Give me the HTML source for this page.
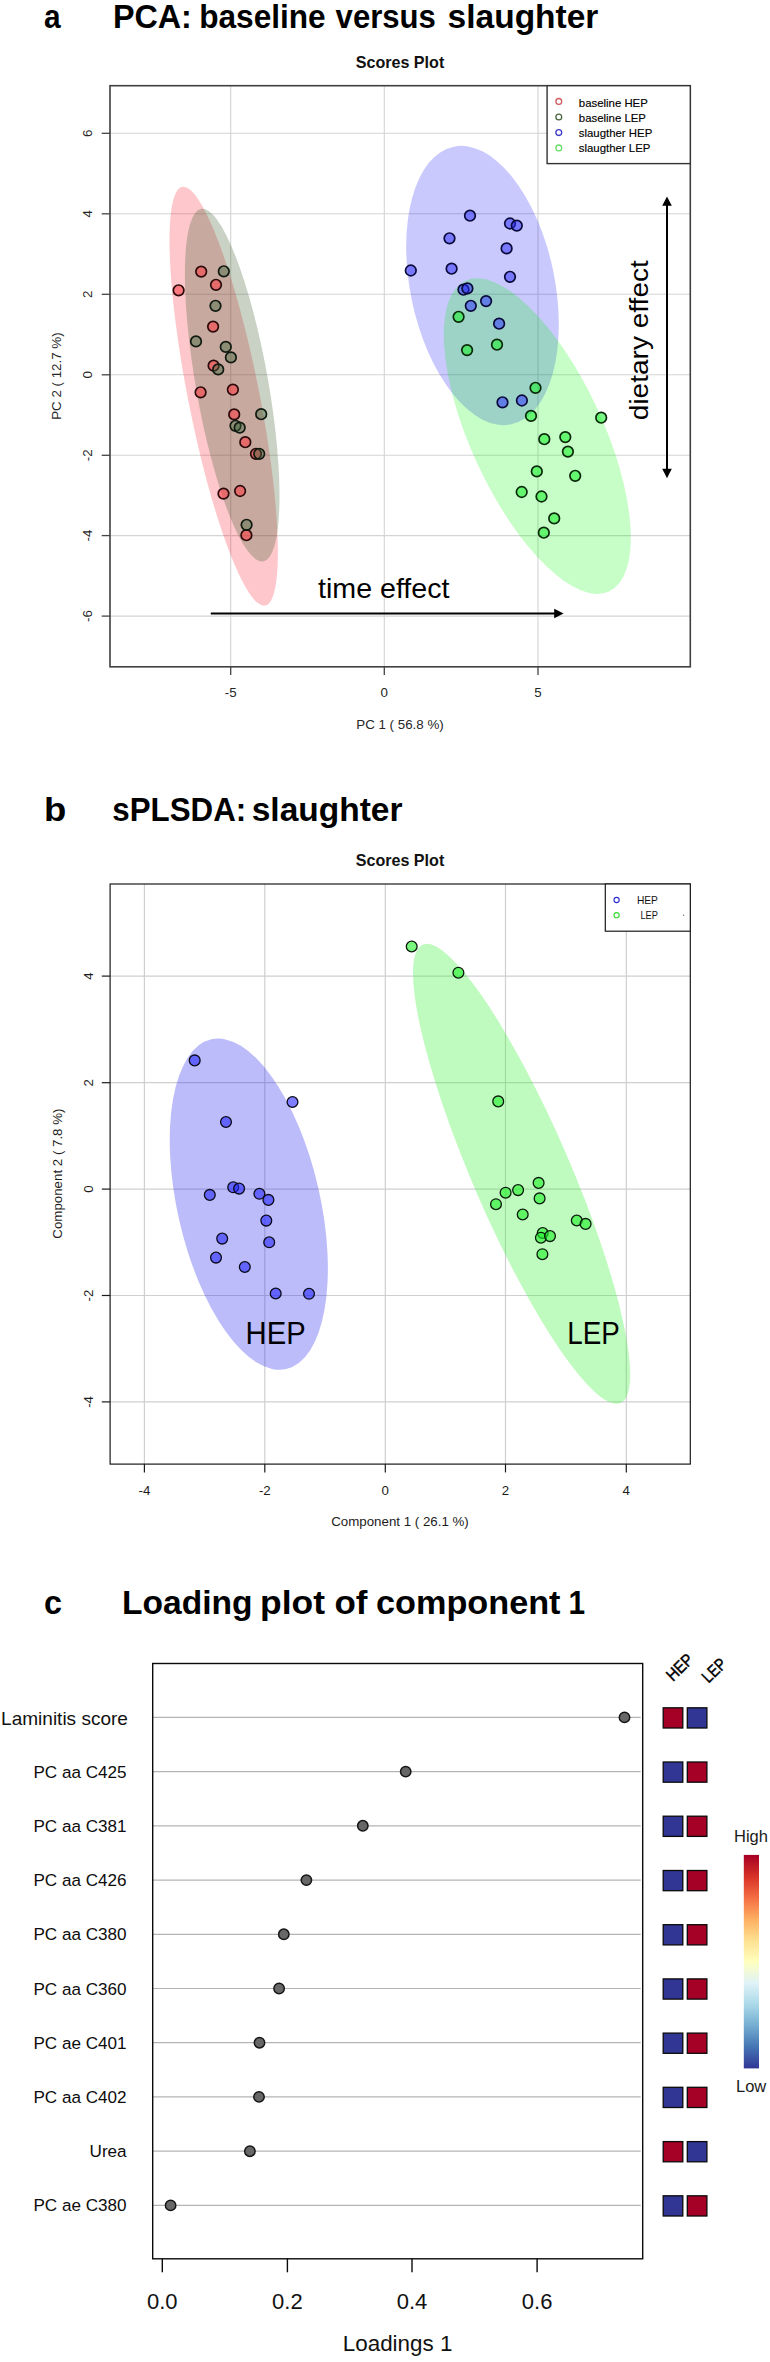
<!DOCTYPE html>
<html lang="en"><head><meta charset="utf-8"><title>Figure</title>
<style>
html,body{margin:0;padding:0;background:#fff;}
body{width:770px;height:2362px;overflow:hidden;}
svg{display:block;font-family:"Liberation Sans",Arial,sans-serif;}
.ttl{font-weight:bold;font-size:32.3px;fill:#000;}
.sp{font-weight:bold;font-size:16.1px;fill:#111;}
.ax{font-size:13.3px;fill:#1c1c1c;}
.axa{font-size:13.35px;fill:#262626;}
.lg{font-size:11.4px;fill:#000;stroke:#000;stroke-width:0.15px;}
.cl{font-size:17.1px;fill:#0d0d0d;}
.ct{font-size:22px;fill:#111;}
</style></head><body>
<svg width="770" height="2362" viewBox="0 0 770 2362">
<rect width="770" height="2362" fill="#fff"/>

<g id="panel-a">
<text class="ttl" x="44.1" y="28" textLength="16.6" lengthAdjust="spacingAndGlyphs">a</text>
<text class="ttl" x="112.9" y="28">PCA:</text>
<text class="ttl" x="199.2" y="28" textLength="126.5" lengthAdjust="spacingAndGlyphs">baseline</text>
<text class="ttl" x="335.6" y="28" textLength="100.3" lengthAdjust="spacingAndGlyphs">versus</text>
<text class="ttl" x="447.6" y="28" textLength="150.8" lengthAdjust="spacingAndGlyphs">slaughter</text>
<g>
<text class="sp" x="400" y="67.6" text-anchor="middle">Scores Plot</text>
<g stroke="#d4d4d4" stroke-width="1.1">
<line x1="230.7" y1="85.7" x2="230.7" y2="666.8"/>
<line x1="384.3" y1="85.7" x2="384.3" y2="666.8"/>
<line x1="538.0" y1="85.7" x2="538.0" y2="666.8"/>
<line x1="110" y1="133.3" x2="690.3" y2="133.3"/>
<line x1="110" y1="213.8" x2="690.3" y2="213.8"/>
<line x1="110" y1="294.3" x2="690.3" y2="294.3"/>
<line x1="110" y1="374.8" x2="690.3" y2="374.8"/>
<line x1="110" y1="455.3" x2="690.3" y2="455.3"/>
<line x1="110" y1="535.6" x2="690.3" y2="535.6"/>
<line x1="110" y1="616.1" x2="690.3" y2="616.1"/>
</g>
<ellipse cx="223.7" cy="396.2" rx="35.6" ry="213.4" transform="rotate(-11.20 223.7 396.2)" fill="rgba(250,0,20,0.22)"/>
<ellipse cx="232.2" cy="385.1" rx="36.2" ry="179.0" transform="rotate(-10.00 232.2 385.1)" fill="rgba(55,90,40,0.27)"/>
<ellipse cx="482.5" cy="285.5" rx="72.2" ry="141.8" transform="rotate(-11.70 482.5 285.5)" fill="rgba(0,0,250,0.21)"/>
<ellipse cx="537.3" cy="436.1" rx="66.0" ry="171.2" transform="rotate(-24.80 537.3 436.1)" fill="rgba(0,245,0,0.22)"/>
<g fill="rgba(255,50,60,0.52)" stroke="#2a0a0a" stroke-width="1.7">
<circle cx="201.2" cy="271.6" r="5.3"/>
<circle cx="216.0" cy="284.8" r="5.3"/>
<circle cx="178.6" cy="290.3" r="5.3"/>
<circle cx="213.1" cy="326.6" r="5.3"/>
<circle cx="213.6" cy="365.7" r="5.3"/>
<circle cx="200.6" cy="392.3" r="5.3"/>
<circle cx="232.9" cy="389.7" r="5.3"/>
<circle cx="234.2" cy="414.4" r="5.3"/>
<circle cx="245.3" cy="442.2" r="5.3"/>
<circle cx="256.0" cy="453.8" r="5.3"/>
<circle cx="223.5" cy="493.6" r="5.3"/>
<circle cx="240.1" cy="491.0" r="5.3"/>
<circle cx="246.4" cy="535.2" r="5.3"/>
</g>
<g fill="rgba(60,100,60,0.42)" stroke="#101a10" stroke-width="1.7">
<circle cx="223.8" cy="271.3" r="5.3"/>
<circle cx="215.5" cy="305.8" r="5.3"/>
<circle cx="196.0" cy="341.4" r="5.3"/>
<circle cx="225.8" cy="346.9" r="5.3"/>
<circle cx="230.9" cy="357.4" r="5.3"/>
<circle cx="218.2" cy="369.4" r="5.3"/>
<circle cx="261.2" cy="414.2" r="5.3"/>
<circle cx="235.5" cy="425.8" r="5.3"/>
<circle cx="239.7" cy="427.6" r="5.3"/>
<circle cx="259.2" cy="453.8" r="5.3"/>
<circle cx="246.6" cy="524.8" r="5.3"/>
</g>
<g fill="rgba(40,40,255,0.5)" stroke="#0a0a3a" stroke-width="1.7">
<circle cx="470.0" cy="215.7" r="5.3"/>
<circle cx="510.0" cy="223.5" r="5.3"/>
<circle cx="516.8" cy="225.6" r="5.3"/>
<circle cx="449.5" cy="238.3" r="5.3"/>
<circle cx="506.6" cy="248.4" r="5.3"/>
<circle cx="410.8" cy="270.5" r="5.3"/>
<circle cx="451.6" cy="268.7" r="5.3"/>
<circle cx="510.0" cy="276.8" r="5.3"/>
<circle cx="463.5" cy="289.7" r="5.3"/>
<circle cx="467.4" cy="288.4" r="5.3"/>
<circle cx="486.1" cy="301.1" r="5.3"/>
<circle cx="470.8" cy="305.8" r="5.3"/>
<circle cx="499.1" cy="323.7" r="5.3"/>
<circle cx="502.5" cy="402.3" r="5.3"/>
<circle cx="521.9" cy="400.5" r="5.3"/>
</g>
<g fill="rgba(20,240,40,0.55)" stroke="#0a2a0a" stroke-width="1.7">
<circle cx="458.6" cy="316.8" r="5.3"/>
<circle cx="467.1" cy="350.1" r="5.3"/>
<circle cx="497.0" cy="344.7" r="5.3"/>
<circle cx="535.5" cy="387.8" r="5.3"/>
<circle cx="531.0" cy="415.9" r="5.3"/>
<circle cx="601.2" cy="417.7" r="5.3"/>
<circle cx="544.3" cy="439.2" r="5.3"/>
<circle cx="565.3" cy="437.1" r="5.3"/>
<circle cx="567.9" cy="451.6" r="5.3"/>
<circle cx="536.8" cy="471.4" r="5.3"/>
<circle cx="575.2" cy="475.8" r="5.3"/>
<circle cx="521.7" cy="492.0" r="5.3"/>
<circle cx="541.5" cy="496.5" r="5.3"/>
<circle cx="554.2" cy="518.4" r="5.3"/>
<circle cx="543.8" cy="532.7" r="5.3"/>
</g>
<rect x="110" y="85.7" width="580.3" height="581.0999999999999" fill="none" stroke="#404040" stroke-width="1.6"/>
<g stroke="#444" stroke-width="1.3">
<line x1="230.7" y1="666.8" x2="230.7" y2="675.0999999999999"/>
<line x1="384.3" y1="666.8" x2="384.3" y2="675.0999999999999"/>
<line x1="538.0" y1="666.8" x2="538.0" y2="675.0999999999999"/>
<line x1="110" y1="133.3" x2="101.7" y2="133.3"/>
<line x1="110" y1="213.8" x2="101.7" y2="213.8"/>
<line x1="110" y1="294.3" x2="101.7" y2="294.3"/>
<line x1="110" y1="374.8" x2="101.7" y2="374.8"/>
<line x1="110" y1="455.3" x2="101.7" y2="455.3"/>
<line x1="110" y1="535.6" x2="101.7" y2="535.6"/>
<line x1="110" y1="616.1" x2="101.7" y2="616.1"/>
</g>
<text class="axa" x="230.7" y="697.4" text-anchor="middle">-5</text>
<text class="axa" x="384.3" y="697.4" text-anchor="middle">0</text>
<text class="axa" x="538.0" y="697.4" text-anchor="middle">5</text>
<text class="axa" transform="translate(92.4 133.3) rotate(-90)" text-anchor="middle">6</text>
<text class="axa" transform="translate(92.4 213.8) rotate(-90)" text-anchor="middle">4</text>
<text class="axa" transform="translate(92.4 294.3) rotate(-90)" text-anchor="middle">2</text>
<text class="axa" transform="translate(92.4 374.8) rotate(-90)" text-anchor="middle">0</text>
<text class="axa" transform="translate(92.4 455.3) rotate(-90)" text-anchor="middle">-2</text>
<text class="axa" transform="translate(92.4 535.6) rotate(-90)" text-anchor="middle">-4</text>
<text class="axa" transform="translate(92.4 616.1) rotate(-90)" text-anchor="middle">-6</text>
<text class="axa" x="400" y="728.8" text-anchor="middle">PC 1 ( 56.8 %)</text>
<text class="axa" transform="translate(61.3 376.1) rotate(-90)" text-anchor="middle">PC 2 ( 12.7 %)</text>
<rect x="547.1" y="85.7" width="143.2" height="77.9" fill="#fff" stroke="#333" stroke-width="1.4"/>
<circle cx="558.8" cy="101.4" r="2.9" fill="none" stroke="#d05a5f" stroke-width="1.3"/>
<text class="lg" x="578.8" y="106.6">baseline HEP</text>
<circle cx="558.8" cy="117.0" r="2.9" fill="none" stroke="#4c6640" stroke-width="1.3"/>
<text class="lg" x="578.8" y="122.2">baseline LEP</text>
<circle cx="558.8" cy="132.6" r="2.9" fill="none" stroke="#3a3ac8" stroke-width="1.3"/>
<text class="lg" x="578.8" y="137.2">slaugther HEP</text>
<circle cx="558.8" cy="147.9" r="2.9" fill="none" stroke="#66dd66" stroke-width="1.3"/>
<text class="lg" x="578.8" y="152.0">slaugther LEP</text>
</g>
<g stroke="#000" stroke-width="2" fill="#000">
<line x1="210.8" y1="613.5" x2="556" y2="613.5"/>
<path d="M563.6 613.5 L554.2 608.7 L554.2 618.3 Z" stroke="none"/>
<line x1="667" y1="204" x2="667" y2="470"/>
<path d="M667 196.4 L662.2 205.8 L671.8 205.8 Z" stroke="none"/>
<path d="M667 478.2 L662.2 468.8 L671.8 468.8 Z" stroke="none"/>
</g>
<text x="318" y="598.2" font-size="27.6" fill="#000" textLength="131.5" lengthAdjust="spacingAndGlyphs">time effect</text>
<text transform="translate(647.9 420.2) rotate(-90)" font-size="25.5" fill="#000" textLength="160" lengthAdjust="spacingAndGlyphs">dietary effect</text>
</g>
<g id="panel-b">
<text class="ttl" x="44.0" y="821" textLength="22.3" lengthAdjust="spacingAndGlyphs">b</text>
<text class="ttl" x="112.3" y="821" textLength="133.9" lengthAdjust="spacingAndGlyphs">sPLSDA:</text>
<text class="ttl" x="251.7" y="821" textLength="150.8" lengthAdjust="spacingAndGlyphs">slaughter</text>
<text class="sp" x="400" y="866.2" text-anchor="middle">Scores Plot</text>
<g stroke="#cfcfcf" stroke-width="1.2">
<line x1="144.4" y1="884.0" x2="144.4" y2="1464.1"/>
<line x1="264.8" y1="884.0" x2="264.8" y2="1464.1"/>
<line x1="385.3" y1="884.0" x2="385.3" y2="1464.1"/>
<line x1="505.5" y1="884.0" x2="505.5" y2="1464.1"/>
<line x1="626.3" y1="884.0" x2="626.3" y2="1464.1"/>
<line x1="110.1" y1="976.1" x2="690.3" y2="976.1"/>
<line x1="110.1" y1="1082.7" x2="690.3" y2="1082.7"/>
<line x1="110.1" y1="1189.1" x2="690.3" y2="1189.1"/>
<line x1="110.1" y1="1295.5" x2="690.3" y2="1295.5"/>
<line x1="110.1" y1="1401.9" x2="690.3" y2="1401.9"/>
</g>
<ellipse cx="248.8" cy="1204.2" rx="71.4" ry="169.1" transform="rotate(-12.80 248.8 1204.2)" fill="rgba(40,40,240,0.31)"/>
<ellipse cx="521.6" cy="1173.8" rx="48.8" ry="249.6" transform="rotate(-23.35 521.6 1173.8)" fill="rgba(60,240,60,0.33)" />
<g fill="rgba(40,40,255,0.6)" stroke="#0a0a1a" stroke-width="1.3">
<circle cx="194.7" cy="1060.4" r="5.4"/>
<circle cx="292.5" cy="1102.0" r="5.4"/>
<circle cx="226.0" cy="1122.0" r="5.4"/>
<circle cx="233.2" cy="1187.3" r="5.4"/>
<circle cx="239.1" cy="1188.6" r="5.4"/>
<circle cx="209.8" cy="1194.9" r="5.4"/>
<circle cx="259.4" cy="1193.8" r="5.4"/>
<circle cx="268.4" cy="1199.9" r="5.4"/>
<circle cx="266.3" cy="1220.6" r="5.4"/>
<circle cx="222.2" cy="1238.6" r="5.4"/>
<circle cx="269.2" cy="1242.3" r="5.4"/>
<circle cx="216.0" cy="1257.6" r="5.4"/>
<circle cx="244.8" cy="1267.0" r="5.4"/>
<circle cx="275.7" cy="1293.5" r="5.4"/>
<circle cx="309.0" cy="1293.8" r="5.4"/>
</g>
<g fill="rgba(30,240,40,0.6)" stroke="#0a1a0a" stroke-width="1.3">
<circle cx="411.7" cy="946.5" r="5.4"/>
<circle cx="458.4" cy="972.7" r="5.4"/>
<circle cx="498.2" cy="1101.4" r="5.4"/>
<circle cx="538.6" cy="1182.9" r="5.4"/>
<circle cx="518.1" cy="1190.1" r="5.4"/>
<circle cx="505.6" cy="1192.7" r="5.4"/>
<circle cx="539.6" cy="1198.4" r="5.4"/>
<circle cx="496.0" cy="1204.2" r="5.4"/>
<circle cx="522.7" cy="1214.5" r="5.4"/>
<circle cx="576.8" cy="1220.5" r="5.4"/>
<circle cx="585.6" cy="1223.9" r="5.4"/>
<circle cx="542.7" cy="1233.0" r="5.4"/>
<circle cx="540.9" cy="1237.7" r="5.4"/>
<circle cx="550.0" cy="1236.1" r="5.4"/>
<circle cx="542.4" cy="1254.2" r="5.4"/>
</g>
<rect x="110.1" y="884.0" width="580.1999999999999" height="580.0999999999999" fill="none" stroke="#1a1a1a" stroke-width="1.2"/>
<g stroke="#1a1a1a" stroke-width="1.2">
<line x1="144.4" y1="1464.1" x2="144.4" y2="1472.3999999999999"/>
<line x1="264.8" y1="1464.1" x2="264.8" y2="1472.3999999999999"/>
<line x1="385.3" y1="1464.1" x2="385.3" y2="1472.3999999999999"/>
<line x1="505.5" y1="1464.1" x2="505.5" y2="1472.3999999999999"/>
<line x1="626.3" y1="1464.1" x2="626.3" y2="1472.3999999999999"/>
<line x1="110.1" y1="976.1" x2="101.8" y2="976.1"/>
<line x1="110.1" y1="1082.7" x2="101.8" y2="1082.7"/>
<line x1="110.1" y1="1189.1" x2="101.8" y2="1189.1"/>
<line x1="110.1" y1="1295.5" x2="101.8" y2="1295.5"/>
<line x1="110.1" y1="1401.9" x2="101.8" y2="1401.9"/>
</g>
<text class="ax" x="144.4" y="1494.6" text-anchor="middle">-4</text>
<text class="ax" x="264.8" y="1494.6" text-anchor="middle">-2</text>
<text class="ax" x="385.3" y="1494.6" text-anchor="middle">0</text>
<text class="ax" x="505.5" y="1494.6" text-anchor="middle">2</text>
<text class="ax" x="626.3" y="1494.6" text-anchor="middle">4</text>
<text class="ax" transform="translate(92.9 976.1) rotate(-90)" text-anchor="middle">4</text>
<text class="ax" transform="translate(92.9 1082.7) rotate(-90)" text-anchor="middle">2</text>
<text class="ax" transform="translate(92.9 1189.1) rotate(-90)" text-anchor="middle">0</text>
<text class="ax" transform="translate(92.9 1295.5) rotate(-90)" text-anchor="middle">-2</text>
<text class="ax" transform="translate(92.9 1401.9) rotate(-90)" text-anchor="middle">-4</text>
<text class="ax" x="400" y="1526" text-anchor="middle">Component 1 ( 26.1 %)</text>
<text class="ax" transform="translate(61.7 1173.6) rotate(-90)" text-anchor="middle">Component 2 ( 7.8 %)</text>
<rect x="605.3" y="884" width="85" height="47.2" fill="#fff" stroke="#1a1a1a" stroke-width="1.2"/>
<circle cx="616.6" cy="900" r="2.6" fill="none" stroke="#2a2ad0" stroke-width="1.1"/>
<circle cx="616.6" cy="915.2" r="2.6" fill="none" stroke="#33dd33" stroke-width="1.1"/>
<text x="636.9" y="904.3" font-size="10.6" fill="#111" textLength="21" lengthAdjust="spacingAndGlyphs">HEP</text>
<text x="640.4" y="919.1" font-size="10.6" fill="#111" textLength="17.5" lengthAdjust="spacingAndGlyphs">LEP</text>
<circle cx="683.6" cy="915.2" r="0.6" fill="#555"/>
<text x="245.6" y="1344.2" font-size="32" fill="#000" textLength="60" lengthAdjust="spacingAndGlyphs">HEP</text>
<text x="567.2" y="1344.4" font-size="32" fill="#000" textLength="52.5" lengthAdjust="spacingAndGlyphs">LEP</text>
</g>
<g id="panel-c">
<text class="ttl" x="44" y="1613.8" font-size="32.5">c</text>
<text class="ttl" x="122.0" y="1613.8" style="font-size:32.5px" textLength="130.5" lengthAdjust="spacingAndGlyphs">Loading</text>
<text class="ttl" x="260.0" y="1613.8" style="font-size:32.5px" textLength="65.0" lengthAdjust="spacingAndGlyphs">plot</text>
<text class="ttl" x="334.5" y="1613.8" style="font-size:32.5px" textLength="33.0" lengthAdjust="spacingAndGlyphs">of</text>
<text class="ttl" x="376.0" y="1613.8" style="font-size:32.5px" textLength="184.5" lengthAdjust="spacingAndGlyphs">component</text>
<text class="ttl" x="568.5" y="1613.8" style="font-size:32.5px" textLength="16.6" lengthAdjust="spacingAndGlyphs">1</text>
<g stroke="#b4b4b4" stroke-width="1.2">
<line x1="152.7" y1="1717.4" x2="640.7" y2="1717.4"/>
<line x1="152.7" y1="1771.6" x2="640.7" y2="1771.6"/>
<line x1="152.7" y1="1825.8" x2="640.7" y2="1825.8"/>
<line x1="152.7" y1="1880.1" x2="640.7" y2="1880.1"/>
<line x1="152.7" y1="1934.3" x2="640.7" y2="1934.3"/>
<line x1="152.7" y1="1988.5" x2="640.7" y2="1988.5"/>
<line x1="152.7" y1="2042.7" x2="640.7" y2="2042.7"/>
<line x1="152.7" y1="2096.9" x2="640.7" y2="2096.9"/>
<line x1="152.7" y1="2151.2" x2="640.7" y2="2151.2"/>
<line x1="152.7" y1="2205.4" x2="640.7" y2="2205.4"/>
</g>
<g fill="#676767" stroke="#151515" stroke-width="1.5">
<circle cx="624.5" cy="1717.4" r="5.2"/>
<circle cx="405.7" cy="1771.6" r="5.2"/>
<circle cx="362.8" cy="1825.8" r="5.2"/>
<circle cx="306.4" cy="1880.1" r="5.2"/>
<circle cx="283.8" cy="1934.3" r="5.2"/>
<circle cx="279.1" cy="1988.5" r="5.2"/>
<circle cx="259.5" cy="2042.7" r="5.2"/>
<circle cx="259.0" cy="2096.9" r="5.2"/>
<circle cx="249.9" cy="2151.2" r="5.2"/>
<circle cx="170.6" cy="2205.4" r="5.2"/>
</g>
<rect x="152.7" y="1663.5" width="490.00000000000006" height="595.3000000000002" fill="none" stroke="#0a0a0a" stroke-width="1.4"/>
<text x="1.1" y="1725.1" font-size="19" fill="#111" textLength="126.8" lengthAdjust="spacingAndGlyphs">Laminitis score</text>
<rect x="663.2" y="1707.8" width="19.6" height="20.2" fill="#a50026" stroke="#0a0a0a" stroke-width="1.3"/>
<rect x="687.3" y="1707.8" width="19.6" height="20.2" fill="#313695" stroke="#0a0a0a" stroke-width="1.3"/>
<text class="cl" x="126.6" y="1777.6" text-anchor="end">PC aa C425</text>
<rect x="663.2" y="1762.0" width="19.6" height="20.2" fill="#313695" stroke="#0a0a0a" stroke-width="1.3"/>
<rect x="687.3" y="1762.0" width="19.6" height="20.2" fill="#a50026" stroke="#0a0a0a" stroke-width="1.3"/>
<text class="cl" x="126.6" y="1831.8" text-anchor="end">PC aa C381</text>
<rect x="663.2" y="1816.2" width="19.6" height="20.2" fill="#313695" stroke="#0a0a0a" stroke-width="1.3"/>
<rect x="687.3" y="1816.2" width="19.6" height="20.2" fill="#a50026" stroke="#0a0a0a" stroke-width="1.3"/>
<text class="cl" x="126.6" y="1886.1" text-anchor="end">PC aa C426</text>
<rect x="663.2" y="1870.5" width="19.6" height="20.2" fill="#313695" stroke="#0a0a0a" stroke-width="1.3"/>
<rect x="687.3" y="1870.5" width="19.6" height="20.2" fill="#a50026" stroke="#0a0a0a" stroke-width="1.3"/>
<text class="cl" x="126.6" y="1940.3" text-anchor="end">PC aa C380</text>
<rect x="663.2" y="1924.7" width="19.6" height="20.2" fill="#313695" stroke="#0a0a0a" stroke-width="1.3"/>
<rect x="687.3" y="1924.7" width="19.6" height="20.2" fill="#a50026" stroke="#0a0a0a" stroke-width="1.3"/>
<text class="cl" x="126.6" y="1994.5" text-anchor="end">PC aa C360</text>
<rect x="663.2" y="1978.9" width="19.6" height="20.2" fill="#313695" stroke="#0a0a0a" stroke-width="1.3"/>
<rect x="687.3" y="1978.9" width="19.6" height="20.2" fill="#a50026" stroke="#0a0a0a" stroke-width="1.3"/>
<text class="cl" x="126.6" y="2048.7" text-anchor="end">PC ae C401</text>
<rect x="663.2" y="2033.1" width="19.6" height="20.2" fill="#313695" stroke="#0a0a0a" stroke-width="1.3"/>
<rect x="687.3" y="2033.1" width="19.6" height="20.2" fill="#a50026" stroke="#0a0a0a" stroke-width="1.3"/>
<text class="cl" x="126.6" y="2102.9" text-anchor="end">PC aa C402</text>
<rect x="663.2" y="2087.3" width="19.6" height="20.2" fill="#313695" stroke="#0a0a0a" stroke-width="1.3"/>
<rect x="687.3" y="2087.3" width="19.6" height="20.2" fill="#a50026" stroke="#0a0a0a" stroke-width="1.3"/>
<text class="cl" x="126.6" y="2157.2" text-anchor="end">Urea</text>
<rect x="663.2" y="2141.6" width="19.6" height="20.2" fill="#a50026" stroke="#0a0a0a" stroke-width="1.3"/>
<rect x="687.3" y="2141.6" width="19.6" height="20.2" fill="#313695" stroke="#0a0a0a" stroke-width="1.3"/>
<text class="cl" x="126.6" y="2211.4" text-anchor="end">PC ae C380</text>
<rect x="663.2" y="2195.8" width="19.6" height="20.2" fill="#313695" stroke="#0a0a0a" stroke-width="1.3"/>
<rect x="687.3" y="2195.8" width="19.6" height="20.2" fill="#a50026" stroke="#0a0a0a" stroke-width="1.3"/>
<g stroke="#0a0a0a" stroke-width="1.4">
<line x1="162.3" y1="2258.8" x2="162.3" y2="2272.3"/>
<line x1="287.4" y1="2258.8" x2="287.4" y2="2272.3"/>
<line x1="412.0" y1="2258.8" x2="412.0" y2="2272.3"/>
<line x1="537.1" y1="2258.8" x2="537.1" y2="2272.3"/>
</g>
<text class="ct" x="162.3" y="2308.5" text-anchor="middle">0.0</text>
<text class="ct" x="287.4" y="2308.5" text-anchor="middle">0.2</text>
<text class="ct" x="412.0" y="2308.5" text-anchor="middle">0.4</text>
<text class="ct" x="537.1" y="2308.5" text-anchor="middle">0.6</text>
<text class="ct" x="397.6" y="2351.3" text-anchor="middle" style="font-size:22.4px">Loadings 1</text>
<text transform="translate(672.9 1682.1) rotate(-44.5)" font-size="17" fill="#000" stroke="#000" stroke-width="0.45" textLength="30.5" lengthAdjust="spacingAndGlyphs">HEP</text>
<text transform="translate(708.6 1683.8) rotate(-44.5)" font-size="17" fill="#000" stroke="#000" stroke-width="0.45" textLength="26.7" lengthAdjust="spacingAndGlyphs">LEP</text>
<defs><linearGradient id="cb" x1="0" y1="0" x2="0" y2="1">
<stop offset="0" stop-color="#a50026"/><stop offset="0.1" stop-color="#d73027"/><stop offset="0.2" stop-color="#f46d43"/>
<stop offset="0.3" stop-color="#fdae61"/><stop offset="0.4" stop-color="#fee090"/><stop offset="0.5" stop-color="#ffffbf"/>
<stop offset="0.6" stop-color="#e0f3f8"/><stop offset="0.7" stop-color="#abd9e9"/><stop offset="0.8" stop-color="#74add1"/>
<stop offset="0.9" stop-color="#4575b4"/><stop offset="1" stop-color="#313695"/></linearGradient></defs>
<rect x="743.8" y="1854.9" width="15.2" height="213.5" fill="url(#cb)"/>
<text x="734" y="1841.7" font-size="16.5" fill="#1a1a1a">High</text>
<text x="736" y="2091.7" font-size="16.5" fill="#1a1a1a">Low</text>
</g>
</svg></body></html>
